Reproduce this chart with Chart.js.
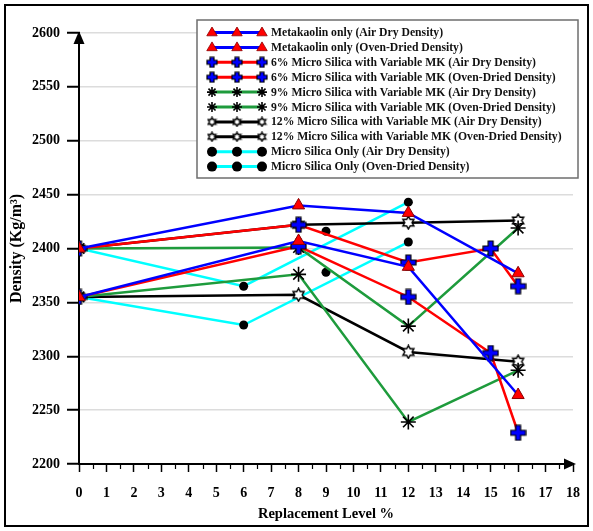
<!DOCTYPE html>
<html>
<head>
<meta charset="utf-8">
<script src="https://cdn.jsdelivr.net/npm/chart.js@4.4.1/dist/chart.umd.min.js"></script>
<style>
  html, body { margin: 0; padding: 0; background: #fff; }
  canvas { display: block; }
</style>
</head>
<body>
<canvas id="chart" width="593" height="531"></canvas>
<script>
// ---- Replacement levels (%) ----
const xMK = [0, 8, 12, 16];
const xMS6 = [0, 8, 12, 15, 16];
const xMS9 = [0, 8, 12, 16];
const xMS12 = [0, 8, 12, 16];
const xMSOnly = [0, 6, 12];
const xMSOnlyMid = [9];

// ---- Densities (Kg/m3) ----
const mkAir = [2400, 2440, 2433, 2377];
const mkOven = [2355, 2407, 2383, 2264];
const ms6Air = [2400, 2422, 2387, 2400, 2365];
const ms6Oven = [2355, 2402, 2355, 2303, 2229];
const ms9Air = [2400, 2401, 2328, 2419];
const ms9Oven = [2355, 2376, 2239, 2287];
const ms12Air = [2400, 2422, 2424, 2426];
const ms12Oven = [2355, 2357, 2304, 2295];
const msOnlyAir = [2400, 2365, 2443];
const msOnlyOven = [2355, 2329, 2406];
const msOnlyAirMid = [2416];
const msOnlyOvenMid = [2378];

// ---- Axis ticks ----
const xTickValues = [0, 1, 2, 3, 4, 5, 6, 7, 8, 9, 10, 11, 12, 13, 14, 15, 16, 17, 18];
const yTickValues = [2200, 2250, 2300, 2350, 2400, 2450, 2500, 2550, 2600];

const FONT = "'Liberation Serif', 'Times New Roman', serif";
const GREEN = '#1e9b3c';

// ---- Marker images ----
function plusMarker(size, arm) {
  const c = document.createElement('canvas');
  c.width = c.height = size;
  const g = c.getContext('2d');
  const m = size / 2, a = arm / 2, e = size / 2 - 1;
  g.beginPath();
  g.moveTo(m - a, m - e); g.lineTo(m + a, m - e); g.lineTo(m + a, m - a);
  g.lineTo(m + e, m - a); g.lineTo(m + e, m + a); g.lineTo(m + a, m + a);
  g.lineTo(m + a, m + e); g.lineTo(m - a, m + e); g.lineTo(m - a, m + a);
  g.lineTo(m - e, m + a); g.lineTo(m - e, m - a); g.lineTo(m - a, m - a);
  g.closePath();
  g.fillStyle = '#0000ff'; g.fill();
  g.lineWidth = 1.2; g.strokeStyle = '#000'; g.stroke();
  return c;
}
function hexStarMarker(size) {
  const c = document.createElement('canvas');
  c.width = c.height = size;
  const g = c.getContext('2d');
  const m = size / 2, R = size / 2 - 1.2, r = R / Math.sqrt(3);
  g.beginPath();
  for (let k = 0; k < 12; k++) {
    const ang = (-90 + k * 30) * Math.PI / 180;
    const rad = k % 2 === 0 ? R : r;
    const px = m + rad * Math.cos(ang), py = m + rad * Math.sin(ang);
    if (k === 0) g.moveTo(px, py); else g.lineTo(px, py);
  }
  g.closePath();
  g.fillStyle = '#fff'; g.fill();
  g.lineWidth = 1.5; g.strokeStyle = '#000'; g.stroke();
  return c;
}
const plusImg = plusMarker(17, 5);
const plusImgSmall = plusMarker(12, 4);
const starImg = hexStarMarker(15);
const starImgSmall = hexStarMarker(11);

const pts = (xs, ys) => xs.map((x, i) => ({ x: x, y: ys[i] }));

function mkSet(label, xs, ys) {
  return {
    label, data: pts(xs, ys), borderColor: '#0000ff', borderWidth: 2.5,
    pointStyle: 'triangle', pointRadius: 7, pointBackgroundColor: '#ff0000',
    pointBorderColor: '#8b0000', pointBorderWidth: 1,
    legend: { line: '#0000ff', kind: 'triangle' }
  };
}
function ms6Set(label, xs, ys) {
  return {
    label, data: pts(xs, ys), borderColor: '#ff0000', borderWidth: 2.5,
    pointStyle: plusImg, pointRadius: 8,
    legend: { line: '#ff0000', kind: 'plus' }
  };
}
function ms9Set(label, xs, ys) {
  return {
    label, data: pts(xs, ys), borderColor: GREEN, borderWidth: 2.5,
    pointStyle: 'star', pointRadius: 7.5, pointBorderColor: '#000',
    pointBackgroundColor: '#000', pointBorderWidth: 1.6,
    legend: { line: GREEN, kind: 'asterisk' }
  };
}
function ms12Set(label, xs, ys) {
  return {
    label, data: pts(xs, ys), borderColor: '#000', borderWidth: 2.5,
    pointStyle: starImg, pointRadius: 8,
    legend: { line: '#000', kind: 'hexstar' }
  };
}
function msOnlySet(label, xs, ys) {
  return {
    label, data: pts(xs, ys), borderColor: '#00ffff', borderWidth: 2.5,
    pointStyle: 'circle', pointRadius: 4.5, pointBackgroundColor: '#000',
    pointBorderColor: '#000', pointBorderWidth: 0,
    legend: { line: '#00ffff', kind: 'circle' }
  };
}
function dotSet(xs, ys) {
  return {
    label: '', data: pts(xs, ys), showLine: false,
    pointStyle: 'circle', pointRadius: 4.5, pointBackgroundColor: '#000',
    pointBorderColor: '#000', pointBorderWidth: 0
  };
}

const datasets = [
  mkSet('Metakaolin only (Air Dry Density)', xMK, mkAir),
  mkSet('Metakaolin only (Oven-Dried Density)', xMK, mkOven),
  ms6Set('6% Micro Silica with Variable MK (Air Dry Density)', xMS6, ms6Air),
  ms6Set('6% Micro Silica with Variable MK (Oven-Dried Density)', xMS6, ms6Oven),
  ms9Set('9% Micro Silica with Variable MK (Air Dry Density)', xMS9, ms9Air),
  ms9Set('9% Micro Silica with Variable MK (Oven-Dried Density)', xMS9, ms9Oven),
  ms12Set('12% Micro Silica with Variable MK (Air Dry Density)', xMS12, ms12Air),
  ms12Set('12% Micro Silica with Variable MK (Oven-Dried Density)', xMS12, ms12Oven),
  msOnlySet('Micro Silica Only (Air Dry Density)', xMSOnly, msOnlyAir),
  msOnlySet('Micro Silica Only (Oven-Dried Density)', xMSOnly, msOnlyOven),
  dotSet(xMSOnlyMid, msOnlyAirMid),
  dotSet(xMSOnlyMid, msOnlyOvenMid)
];

// ---- Legend symbol drawing ----
function drawLegendMarker(ctx, kind, x, y) {
  ctx.save();
  if (kind === 'triangle') {
    const r = 5.5;
    ctx.beginPath();
    ctx.moveTo(x, y - r);
    ctx.lineTo(x + r * 0.95, y + r * 0.6);
    ctx.lineTo(x - r * 0.95, y + r * 0.6);
    ctx.closePath();
    ctx.fillStyle = '#ff0000'; ctx.fill();
    ctx.lineWidth = 0.8; ctx.strokeStyle = '#8b0000'; ctx.stroke();
  } else if (kind === 'plus') {
    ctx.drawImage(plusImgSmall, x - 6, y - 6);
  } else if (kind === 'hexstar') {
    ctx.drawImage(starImgSmall, x - 5.5, y - 5.5);
  } else if (kind === 'asterisk') {
    const r = 5;
    ctx.strokeStyle = '#000'; ctx.lineWidth = 1.6;
    ctx.beginPath();
    for (let k = 0; k < 4; k++) {
      const a = k * Math.PI / 4;
      ctx.moveTo(x - r * Math.cos(a), y - r * Math.sin(a));
      ctx.lineTo(x + r * Math.cos(a), y + r * Math.sin(a));
    }
    ctx.stroke();
  } else if (kind === 'circle') {
    ctx.beginPath(); ctx.arc(x, y, 5, 0, Math.PI * 2);
    ctx.fillStyle = '#000'; ctx.fill();
  }
  ctx.restore();
}

const decorPlugin = {
  id: 'decor',
  beforeDraw(chart) {
    const ctx = chart.ctx;
    ctx.save();
    ctx.fillStyle = '#fff';
    ctx.fillRect(0, 0, chart.width, chart.height);
    ctx.restore();
  },
  afterDatasetsDraw(chart) {
    const ctx = chart.ctx;
    const xs = chart.scales.x, ys = chart.scales.y;
    const x0 = xs.getPixelForValue(0), y0 = ys.getPixelForValue(2200);
    ctx.save();
    // half-step tick marks on the x axis
    ctx.strokeStyle = '#000'; ctx.lineWidth = 1.2;
    ctx.beginPath();
    for (let v = 0.5; v < 18; v += 1) {
      const px = Math.round(xs.getPixelForValue(v)) + 0.5;
      ctx.moveTo(px, y0); ctx.lineTo(px, y0 + 5);
    }
    ctx.stroke();
    // arrow heads at the axis ends
    const top = ys.getPixelForValue(2600), right = xs.getPixelForValue(18);
    ctx.fillStyle = '#000';
    ctx.beginPath();
    ctx.moveTo(x0, top - 2); ctx.lineTo(x0 - 5.5, top + 11); ctx.lineTo(x0 + 5.5, top + 11);
    ctx.closePath(); ctx.fill();
    ctx.beginPath();
    ctx.moveTo(right + 3, y0); ctx.lineTo(right - 9, y0 - 5.5); ctx.lineTo(right - 9, y0 + 5.5);
    ctx.closePath(); ctx.fill();
    ctx.restore();
  },
  afterDraw(chart) {
    const ctx = chart.ctx;
    ctx.save();
    // legend box
    const bx = 197, by = 20, bw = 381, bh = 158;
    ctx.fillStyle = '#fff';
    ctx.fillRect(bx, by, bw, bh);
    ctx.strokeStyle = '#6e6e6e'; ctx.lineWidth = 1.5;
    ctx.strokeRect(bx, by, bw, bh);
    ctx.font = 'bold 11.7px ' + FONT;
    ctx.textBaseline = 'middle';
    ctx.fillStyle = '#111';
    let row = 0;
    chart.data.datasets.forEach(ds => {
      if (!ds.legend) return;
      const y = 32.5 + row * 14.9;
      const lx1 = 212, lx2 = 262;
      ctx.strokeStyle = ds.legend.line; ctx.lineWidth = 3;
      ctx.beginPath(); ctx.moveTo(lx1, y); ctx.lineTo(lx2, y); ctx.stroke();
      [lx1, (lx1 + lx2) / 2, lx2].forEach(mx => drawLegendMarker(ctx, ds.legend.kind, mx, y));
      ctx.fillStyle = '#111';
      ctx.fillText(ds.label, 271, y + 0.5);
      row++;
    });
    // outer frame
    ctx.strokeStyle = '#000'; ctx.lineWidth = 2;
    ctx.strokeRect(5, 5, 583, 521);
    ctx.restore();
  }
};

new Chart(document.getElementById('chart'), {
  type: 'line',
  data: { datasets },
  options: {
    responsive: false,
    animation: false,
    layout: { padding: { left: 0, top: 33, right: 20, bottom: 0 } },
    plugins: { legend: { display: false }, tooltip: { enabled: false } },
    elements: { line: { tension: 0 } },
    scales: {
      x: {
        type: 'linear',
        min: xTickValues[0], max: xTickValues[xTickValues.length - 1],
        afterFit: s => { s.height = 67; },
        afterBuildTicks: s => { s.ticks = xTickValues.map(v => ({ value: v })); },
        ticks: { color: '#000', padding: 13, callback: v => String(v),
                 font: { family: FONT, size: 14, weight: 'bold' } },
        grid: { drawOnChartArea: false, drawTicks: true, tickLength: 8, tickColor: '#000', tickWidth: 1.5 },
        border: { display: true, color: '#000', width: 2 },
        title: { display: true, text: 'Replacement Level %', color: '#000', padding: { top: 0, bottom: 8 },
                 font: { family: FONT, size: 14.5, weight: 'bold' } }
      },
      y: {
        type: 'linear',
        min: yTickValues[0], max: yTickValues[yTickValues.length - 1],
        afterFit: s => { s.width = 79; },
        afterBuildTicks: s => { s.ticks = yTickValues.map(v => ({ value: v })); },
        ticks: { color: '#000', padding: 7, callback: v => String(v),
                 font: { family: FONT, size: 14, weight: 'bold' } },
        grid: { color: '#dcdcdc', lineWidth: 1.5, tickLength: 12, tickColor: '#000', tickWidth: 2 },
        border: { display: true, color: '#000', width: 2 },
        title: { display: true, text: 'Density (Kg/m³)', color: '#000', padding: { top: 7, bottom: 0 },
                 font: { family: FONT, size: 16, weight: 'bold' } }
      }
    }
  },
  plugins: [decorPlugin]
});
</script>
</body>
</html>
